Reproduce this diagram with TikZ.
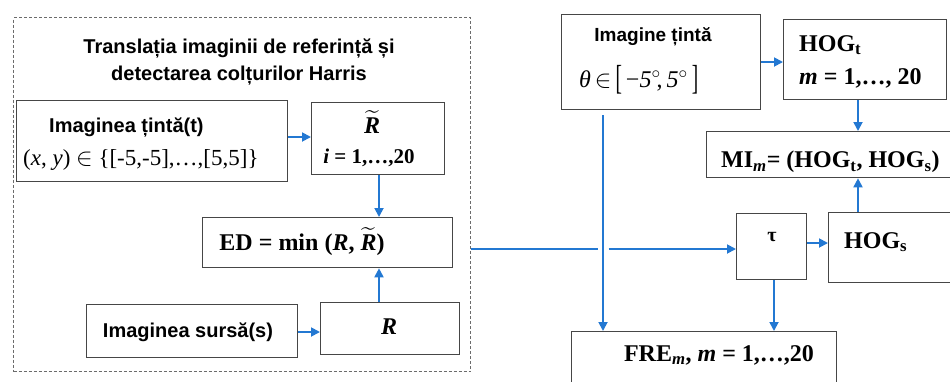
\documentclass[tikz,border=0pt]{standalone}
\usepackage{amsmath}
\usepackage{fontspec}
\setmainfont{Liberation Serif}
\setsansfont{Liberation Sans}
\usetikzlibrary{arrows.meta,calc}
\definecolor{flow}{RGB}{35,120,210}
\definecolor{edge}{RGB}{70,70,70}
\tikzset{
  blk/.style={draw=edge, line width=1.3pt, fill=white, inner sep=0pt, anchor=north west},
  frame/.style={draw=edge!80, line width=1pt, dash pattern=on 3pt off 2pt, anchor=north west, inner sep=0pt},
  flowline/.style={draw=flow, line width=1.8pt},
  flowarrow/.style={flowline, -{Triangle[length=9pt,width=9pt]}},
  sanslbl/.style={font=\sffamily\bfseries\fontsize{20}{24}\selectfont, inner sep=0pt},
  seriflbl/.style={font=\fontsize{24}{28}\selectfont\bfseries, inner sep=0pt},
}
\newcommand{\bR}{\textbf{\textit{R}}}
\newcommand{\tR}{$\widetilde{\hbox{\bR}}$}
% tall square brackets built from the text bracket glyphs
\newcommand{\tallbr}[1]{\raisebox{-2.3pt}{\scalebox{0.8}[1.45]{\fontsize{24}{28}\selectfont #1}}}
\begin{document}
\begin{tikzpicture}[x=1pt,y=-1pt]
\useasboundingbox (0,0) rectangle (950,381);
\clip (0,0) rectangle (950,381);

% left group: translation of the reference image and Harris corners
\node[frame, minimum width=457pt, minimum height=354pt] (grp) at (13,17) {};
\node[sanslbl, align=center] (grptitle) at (239,62)
  {Translația imaginii de referință și\\[3pt] detectarea colțurilor Harris};

\node[blk, minimum width=271pt, minimum height=81pt] (tgtt) at (16,100) {};
\node[sanslbl, anchor=west] (tgttA) at (49,127) {Imaginea țintă(t)};
\node[font=\fontsize{23}{27}\selectfont, inner sep=0pt, anchor=west] (tgttB) at (23,160)
  {(\textit{x}, \textit{y}) $\in$ \{[-5,-5],…,[5,5]\}};

\node[blk, minimum width=133pt, minimum height=72pt] (rt) at (311,102) {};
\node[seriflbl] (rtA) at (372,122) {\tR};
\node[seriflbl, font=\fontsize{21}{25}\selectfont\bfseries] (rtB) at (369,158) {\textit{i} = 1,…,20};

\node[blk, minimum width=250pt, minimum height=50pt] (ed) at (202,217) {};
\node[seriflbl] (edA) at (302,242) {ED = min (\bR, \tR)};

\node[blk, minimum width=211pt, minimum height=53pt] (src) at (86,304) {};
\node[sanslbl] (srcA) at (188,332) {Imaginea sursă(s)};

\node[blk, minimum width=139pt, minimum height=52pt] (r) at (320,302) {};
\node[seriflbl] (rA) at (389,327) {\bR};

% right part
\node[blk, minimum width=199pt, minimum height=95pt] (tgt) at (561,14) {};
\node[sanslbl, font=\sffamily\bfseries\fontsize{19}{23}\selectfont] (tgtA) at (653,37) {Imagine țintă};
\node[font=\fontsize{24}{28}\selectfont, inner sep=0pt, anchor=west] (tgtB) at (579,80)
  {\textit{θ}\,$\in$\,\tallbr{[}\,−\textit{5}$^\circ$\!,\,\textit{5}$^\circ$\,\tallbr{]}};

\node[blk, minimum width=163pt, minimum height=80pt] (hogt) at (783,19) {};
\node[seriflbl, anchor=west] (hogtA) at (799,45) {HOG\textsubscript{t}};
\node[seriflbl, anchor=west] (hogtB) at (799,78) {\textit{m} = 1,…, 20};

\node[blk, minimum width=260pt, minimum height=46pt] (mi) at (706,131) {};
\node[seriflbl, anchor=west] (miA) at (721,162)
  {MI\textsubscript{\textit{m}}= (HOG\textsubscript{t}, HOG\textsubscript{s})};

\node[blk, minimum width=70pt, minimum height=66pt] (tau) at (736,213) {};
\node[font=\fontsize{20}{24}\selectfont\bfseries, inner sep=0pt] (tauA) at (772,237) {τ};

\node[blk, minimum width=140pt, minimum height=70pt] (hogs) at (828,212) {};
\node[seriflbl, anchor=west] (hogsA) at (844,242) {HOG\textsubscript{s}};

\node[blk, minimum width=265pt, minimum height=80pt] (fre) at (571,331) {};
\node[seriflbl] (freA) at (719,355) {FRE\textsubscript{\textit{m}}, \textit{m} = 1,…,20};

% connectors
\draw[flowarrow] (tgtt.east |- 0,137) -- (rt.west |- 0,137);
\draw[flowarrow] (rt.south -| 379,0) -- (ed.north -| 379,0);
\draw[flowarrow] (r.north -| 379,0) -- (ed.south -| 379,0);
\draw[flowarrow] (src.east |- 0,332) -- (r.west |- 0,332);

\draw[flowarrow] (tgt.east |- 0,62) -- (hogt.west |- 0,62);
\draw[flowarrow] (hogt.south -| 858,0) -- (mi.north -| 858,0);
\draw[flowarrow] (hogs.north -| 858,0) -- (mi.south -| 858,0);
\draw[flowarrow] (tau.east |- 0,243) -- (hogs.west |- 0,243);
\draw[flowarrow] (tau.south -| 774,0) -- (fre.north -| 774,0);

\coordinate (vtop) at (603,115);
\coordinate (hl) at (0,249);
\draw[flowarrow] (vtop) -- (fre.north -| vtop);
\draw[flowline] (grp.east |- hl) -- ($(vtop |- hl)+(-5.5,0)$);
\draw[flowarrow] ($(vtop |- hl)+(5.5,0)$) -- (tau.west |- hl);
\end{tikzpicture}
\end{document}
